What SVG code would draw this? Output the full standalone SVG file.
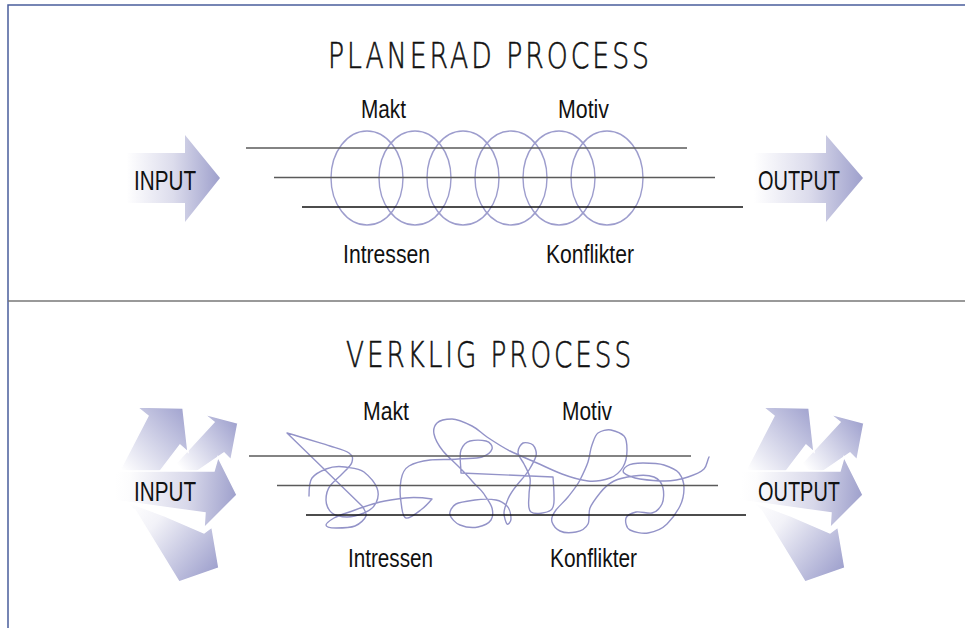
<svg xmlns="http://www.w3.org/2000/svg" width="965" height="628" viewBox="0 0 965 628">
<style>
.t{font-family:"Liberation Sans",Arial,sans-serif;fill:#111}
.title{font-family:"DejaVu Sans","Liberation Sans",sans-serif;font-weight:200;font-size:36px;letter-spacing:4px;fill:#111;stroke:#111;stroke-width:0.6}
.lbl{font-size:26px}
.io{font-size:28px}
.gl{stroke:#5a5a5a;stroke-width:1.5}
.bl{stroke:#111;stroke-width:1.5}
.ell{fill:none;stroke:#9d9dcd;stroke-width:1.4}
.scr{fill:none;stroke:#9393c8;stroke-width:1.4;stroke-linejoin:round;stroke-linecap:round}
.arr{stroke:#fff;stroke-width:1.5;stroke-linejoin:miter}
</style>
<defs>
<linearGradient id="gTop" x1="0" y1="0" x2="1" y2="0">
<stop offset="0" stop-color="#fff"/><stop offset="0.1" stop-color="#fff"/><stop offset="0.55" stop-color="#dcdcec"/><stop offset="1" stop-color="#9ea0cc"/>
</linearGradient>
<linearGradient id="gA" gradientUnits="userSpaceOnUse" x1="122" y1="470" x2="184" y2="410">
<stop offset="0" stop-color="#fff"/><stop offset="1" stop-color="#a3a5d0"/>
</linearGradient>
<linearGradient id="gB" gradientUnits="userSpaceOnUse" x1="180" y1="468" x2="236" y2="425">
<stop offset="0" stop-color="#fff"/><stop offset="1" stop-color="#a3a5d0"/>
</linearGradient>
<linearGradient id="gC" gradientUnits="userSpaceOnUse" x1="115" y1="486" x2="237" y2="495">
<stop offset="0" stop-color="#fff"/><stop offset="0.12" stop-color="#fcfcfd"/><stop offset="0.6" stop-color="#d8d8ea"/><stop offset="1" stop-color="#9ea0cc"/>
</linearGradient>
<linearGradient id="gD" gradientUnits="userSpaceOnUse" x1="130" y1="502" x2="214" y2="572">
<stop offset="0" stop-color="#fff"/><stop offset="0.3" stop-color="#f2f2f8"/><stop offset="1" stop-color="#a0a2ce"/>
</linearGradient>
<g id="cluster">
<polygon class="arr" fill="url(#gD)" points="122,500 165,516 204,533 212,527 219,568 179,582 135,510"/>
<polygon class="arr" fill="url(#gB)" points="168,472 214,422 204,414 238,423 231,460 224,453 196,472"/>
<polygon class="arr" fill="url(#gA)" points="118,474 148,416 137,407 183,408 188,452 180,445 158,474"/>
<polygon class="arr" fill="url(#gC)" points="112,471 214,471 218,457 237,495 204,528 205,513 112,500"/>
</g>
</defs>

<g id="frame">
<path d="M8,628 V5 H965" fill="none" stroke="#4a5e9c" stroke-width="1.5"/>
<line x1="8" y1="301" x2="965" y2="301" stroke="#777" stroke-width="1.5"/>
</g>

<g id="planerad">
<text id="title-planerad" class="title" x="328" y="68" textLength="324" lengthAdjust="spacingAndGlyphs">PLANERAD PROCESS</text>
<g id="input-top">
<polygon fill="url(#gTop)" points="116,153 185,153 185,135 220,178 185,222 185,203 116,203"/>
<text class="t io" x="134" y="190" textLength="62" lengthAdjust="spacingAndGlyphs">INPUT</text>
</g>
<g id="output-top">
<polygon fill="url(#gTop)" points="742,153 826,153 826,135 863,178 826,222 826,203 742,203"/>
<text class="t io" x="758" y="190" textLength="82" lengthAdjust="spacingAndGlyphs">OUTPUT</text>
</g>
<g id="coils-top">
<ellipse class="ell" cx="367" cy="178" rx="36" ry="47"/>
<ellipse class="ell" cx="415" cy="178" rx="36" ry="47"/>
<ellipse class="ell" cx="463" cy="178" rx="36" ry="47"/>
<ellipse class="ell" cx="511" cy="178" rx="36" ry="47"/>
<ellipse class="ell" cx="559" cy="178" rx="36" ry="47"/>
<ellipse class="ell" cx="607" cy="178" rx="36" ry="47"/>
</g>
<g id="lines-top">
<line class="gl" x1="246" y1="148" x2="687" y2="148"/>
<line class="gl" x1="274" y1="177.5" x2="715" y2="177.5"/>
<line class="bl" x1="302" y1="207" x2="743" y2="207"/>
</g>
<g id="labels-top">
<text class="t lbl" x="361" y="118" textLength="45" lengthAdjust="spacingAndGlyphs">Makt</text>
<text class="t lbl" x="558" y="118" textLength="51" lengthAdjust="spacingAndGlyphs">Motiv</text>
<text class="t lbl" x="343" y="263" textLength="87" lengthAdjust="spacingAndGlyphs">Intressen</text>
<text class="t lbl" x="546" y="263" textLength="88" lengthAdjust="spacingAndGlyphs">Konflikter</text>
</g>
</g>

<g id="verklig">
<text id="title-verklig" class="title" x="346" y="367" textLength="288" lengthAdjust="spacingAndGlyphs">VERKLIG PROCESS</text>
<g id="input-bottom">
<use href="#cluster"/>
<text class="t io" x="134" y="501" textLength="62" lengthAdjust="spacingAndGlyphs">INPUT</text>
</g>
<g id="output-bottom">
<use href="#cluster" transform="translate(626,0)"/>
<text class="t io" x="758" y="501" textLength="82" lengthAdjust="spacingAndGlyphs">OUTPUT</text>
</g>
<g id="scribble">
<path class="scr" d="M309,496 S309,482 312,478 S321,471 326,469 S339,466 345,467 S359,468 364,472 S375,483 377,488 S378,499 376,503 S369,511 364,513 S352,517 347,517 S336,516 332,513 S326,504 326,500 S327,490 330,486 S338,478 342,474 S351,466 352,462 S353,456 349,453 S340,449 330,446 S301,437 287,433 L362,506 S367,513 366,516 S360,524 355,526 S341,528 336,528 S326,527 326,525 S329,521 334,518 S347,513 355,510 S372,504 380,502 S396,499 405,498 S425,498 432,499 C432,499 426,506 422,509 S410,519 406,518 S402,508 401,502 S400,486 401,480 S404,469 409,466 S422,461 430,460 S449,460 458,459 S476,459 482,457 S491,452 492,449 S490,442 486,441 S474,440 470,441 S463,445 461,450 S461,466 461,473 L553,477 C553,477 554,490 554,495 S555,507 551,510 S535,515 531,512 S529,501 529,495 S531,483 530,478 S526,468 524,464 S518,456 518,452 S521,444 523,443 S531,443 533,445 S537,452 536,456 S532,465 529,470 S521,480 517,485 S510,494 508,499 S504,509 504,513 S506,523 507,524 S511,522 511,519 S510,509 507,506 S501,501 496,500 S482,499 475,500 S460,502 456,504 S449,512 450,515 S455,523 460,525 S473,528 478,527 S489,523 491,520 S493,512 492,508 S487,499 484,494 S476,486 472,481 S463,471 458,466 S447,456 443,451 S435,439 434,434 S434,426 437,423 S446,419 452,419 S466,423 472,426 S481,433 487,437 S502,447 510,451 S528,459 537,463 S554,471 562,474 S580,480 588,481 S604,480 610,478 S620,472 623,467 S627,455 627,450 S627,439 624,436 S615,431 611,430 S601,431 598,433 S594,440 592,445 S590,456 588,462 S583,474 580,480 S572,492 568,497 S559,506 556,510 S551,519 552,522 S556,529 560,531 S571,533 576,532 S586,528 588,524 S588,513 590,508 S596,498 600,493 S608,484 614,481 S627,477 634,476 S649,475 654,477 S662,484 663,488 S664,500 662,504 S656,512 652,513 S640,511 636,512 S627,515 626,518 S626,528 630,530 S642,534 648,533 S662,529 667,524 S677,512 680,506 S684,494 684,488 S682,477 679,473 S670,467 664,465 S649,463 643,463 S630,464 627,466 S622,471 624,473 S633,478 640,479 S657,481 665,481 S682,479 688,477 S701,472 704,469 S707,461 709,457"/>
</g>
<g id="lines-bottom">
<line class="gl" x1="249" y1="456" x2="691" y2="456"/>
<line class="gl" x1="277" y1="485.5" x2="718" y2="485.5"/>
<line class="bl" x1="306" y1="515" x2="746" y2="515"/>
</g>
<g id="labels-bottom">
<text class="t lbl" x="363" y="420" textLength="46" lengthAdjust="spacingAndGlyphs">Makt</text>
<text class="t lbl" x="562" y="420" textLength="50" lengthAdjust="spacingAndGlyphs">Motiv</text>
<text class="t lbl" x="348" y="567" textLength="85" lengthAdjust="spacingAndGlyphs">Intressen</text>
<text class="t lbl" x="550" y="567" textLength="87" lengthAdjust="spacingAndGlyphs">Konflikter</text>
</g>
</g>
<g id="connectors"/>
</svg>
